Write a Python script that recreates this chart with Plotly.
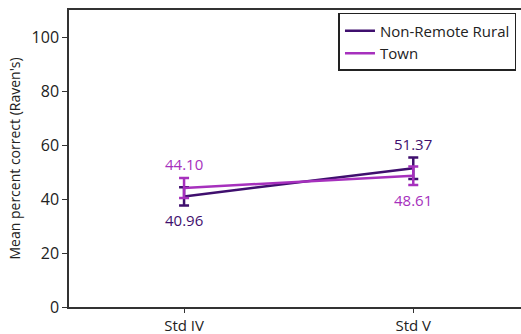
import plotly.graph_objects as go

# Grade levels and group means (percent correct on Raven's)
grades = ["Std IV", "Std V"]
rural_mean = [40.96, 51.37]
town_mean = [44.10, 48.61]
rural_err = [3.4, 4.0]
town_err = [3.7, 3.4]

rural_color = "#3f0f6e"
town_color = "#a630bd"
font_family = "Open Sans, Lato, sans-serif"

fig = go.Figure()

fig.add_trace(go.Scatter(
    x=grades, y=rural_mean, name="Non-Remote Rural", mode="lines",
    line=dict(color=rural_color, width=2.5),
    error_y=dict(type="data", array=rural_err, color=rural_color, thickness=2.5, width=5),
))
fig.add_trace(go.Scatter(
    x=grades, y=town_mean, name="Town", mode="lines",
    line=dict(color=town_color, width=2.5),
    error_y=dict(type="data", array=town_err, color=town_color, thickness=2.5, width=5),
))

# Value labels: the higher group above its point, the lower group below
for i, g in enumerate(grades):
    pairs = [(rural_mean[i], rural_color), (town_mean[i], town_color)]
    hi = max(pairs, key=lambda p: p[0])
    lo = min(pairs, key=lambda p: p[0])
    fig.add_annotation(x=g, y=hi[0], text=f"{hi[0]:.2f}", showarrow=False,
                       yshift=24, font=dict(color=hi[1], size=15, family=font_family))
    fig.add_annotation(x=g, y=lo[0], text=f"{lo[0]:.2f}", showarrow=False,
                       yshift=-24, font=dict(color=lo[1], size=15, family=font_family))

fig.update_layout(
    width=521, height=334,
    margin=dict(l=69, r=0, t=10, b=27),
    paper_bgcolor="white", plot_bgcolor="white",
    font=dict(family=font_family, size=15, color="#222"),
    showlegend=True,
    legend=dict(x=0.99, y=0.99, xanchor="right", yanchor="top",
                bordercolor="#222", borderwidth=1.5, bgcolor="white",
                font=dict(size=15, color="#222"), tracegroupgap=0,
                itemwidth=30),
    xaxis=dict(range=[-0.502, 1.47], showline=True, linecolor="#333", linewidth=1.5,
               mirror=True, ticks="outside", ticklen=4, tickcolor="#333",
               showgrid=False, zeroline=False, tickfont=dict(size=15),
               automargin=False),
    yaxis=dict(range=[0, 110], tickvals=[0, 20, 40, 60, 80, 100],
               showline=True, linecolor="#333", linewidth=1.5,
               ticks="outside", ticklen=5, tickcolor="#333",
               showgrid=False, zeroline=False, tickfont=dict(size=16),
               automargin=False,
               title=dict(text="Mean percent correct (Raven's)", font=dict(size=14), standoff=8)),
)

fig.write_html("out.html")
